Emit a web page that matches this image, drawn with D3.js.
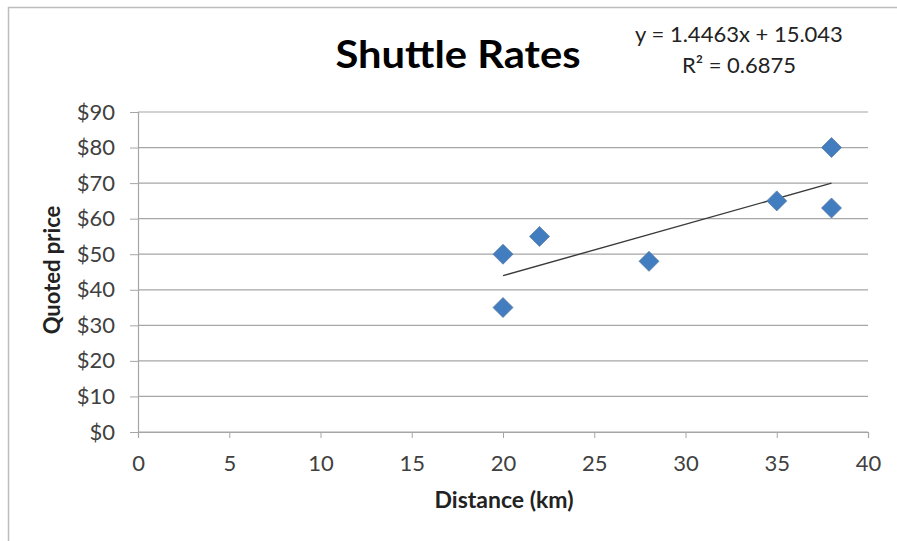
<!DOCTYPE html>
<html><head><meta charset="utf-8">
<script src="https://cdn.jsdelivr.net/npm/d3@7"></script>
<style>body{margin:0;background:#fff}svg{display:block}</style>
</head><body>
<script>
const distances = [20, 20, 22, 28, 35, 38, 38];
const prices = [50, 35, 55, 48, 65, 80, 63];
const xTicks = [0, 5, 10, 15, 20, 25, 30, 35, 40];
const yTicks = [0, 10, 20, 30, 40, 50, 60, 70, 80, 90];
const trendSlope = 1.4463, trendIntercept = 15.043;
const title = "Shuttle Rates";
const eqLines = ["y = 1.4463x + 15.043", "R² = 0.6875"];
const xLabel = "Distance (km)", yLabel = "Quoted price";

const W = 897, H = 541;
const font = "Lato, 'Open Sans', sans-serif";
const svg = d3.select("body").append("svg").attr("width", W).attr("height", H);

// chart border
svg.append("path").attr("d", "M8.5,541 V7.5 H897").attr("fill", "none").attr("stroke", "#bdbdbd").attr("stroke-width", 1.5);

const x = d3.scaleLinear().domain([0, 40]).range([138, 868]);
const y = d3.scaleLinear().domain([0, 90]).range([432, 112]);

// gridlines
svg.append("g").selectAll("line").data(yTicks).join("line")
  .attr("x1", x(0)).attr("x2", x(40)).attr("y1", d => y(d)).attr("y2", d => y(d))
  .attr("stroke", "#a6a6a6").attr("stroke-width", 1.2);

// y axis
const yAxis = svg.append("g").attr("transform", `translate(${x(0)},0)`)
  .call(d3.axisLeft(y).tickValues(yTicks).tickSize(8).tickPadding(15).tickFormat(d => "$" + d));
yAxis.select(".domain").attr("stroke", "#a6a6a6").attr("stroke-width", 1.2);
yAxis.selectAll(".tick line").attr("stroke", "#a6a6a6");
yAxis.selectAll("text").attr("font-family", font).attr("font-size", 22).attr("fill", "#404040");

// x axis
const xAxis = svg.append("g").attr("transform", `translate(0,${y(0)})`)
  .call(d3.axisBottom(x).tickValues(xTicks).tickSize(6).tickPadding(17));
xAxis.select(".domain").attr("stroke", "#a6a6a6").attr("stroke-width", 1.2);
xAxis.selectAll(".tick line").attr("stroke", "#a6a6a6");
xAxis.selectAll("text").attr("font-family", font).attr("font-size", 22).attr("fill", "#404040");

// trendline
const xmin = d3.min(distances), xmax = d3.max(distances);
svg.append("line")
  .attr("x1", x(xmin)).attr("y1", y(trendSlope * xmin + trendIntercept))
  .attr("x2", x(xmax)).attr("y2", y(trendSlope * xmax + trendIntercept))
  .attr("stroke", "#3a3a3a").attr("stroke-width", 1.4);

// points: square diamond
const squareDiamond = {
  draw(ctx, size) {
    const r = Math.sqrt(size) / 2;
    ctx.moveTo(0, -r); ctx.lineTo(r, 0); ctx.lineTo(0, r); ctx.lineTo(-r, 0); ctx.closePath();
  }
};
const pts = distances.map((d, i) => ({ d, p: prices[i] }));
svg.append("g").selectAll("path").data(pts).join("path")
  .attr("d", d3.symbol().type(squareDiamond).size(400))
  .attr("transform", d => `translate(${x(d.d)},${y(d.p)})`)
  .attr("fill", "#427dc0").attr("stroke", "#5b7ba6").attr("stroke-width", 0.8);

// title
svg.append("text").attr("x", 458).attr("y", 68).attr("text-anchor", "middle")
  .attr("font-family", font).attr("font-weight", "bold").attr("font-size", 38).attr("fill", "#000")
  .attr("textLength", 245).attr("lengthAdjust", "spacingAndGlyphs")
  .text(title);

// equation
svg.append("g").selectAll("text").data(eqLines).join("text")
  .attr("x", 739).attr("y", (d, i) => 42 + i * 31).attr("text-anchor", "middle")
  .attr("font-family", font).attr("font-size", 22).attr("fill", "#222")
  .text(d => d);

// axis titles
svg.append("text").attr("x", 504).attr("y", 508).attr("text-anchor", "middle")
  .attr("font-family", font).attr("font-weight", "bold").attr("font-size", 23).attr("fill", "#222")
  .text(xLabel);
svg.append("text").attr("transform", "translate(60,270) rotate(-90)").attr("text-anchor", "middle")
  .attr("font-family", font).attr("font-weight", "bold").attr("font-size", 22).attr("fill", "#222")
  .text(yLabel);
</script>
</body></html>
